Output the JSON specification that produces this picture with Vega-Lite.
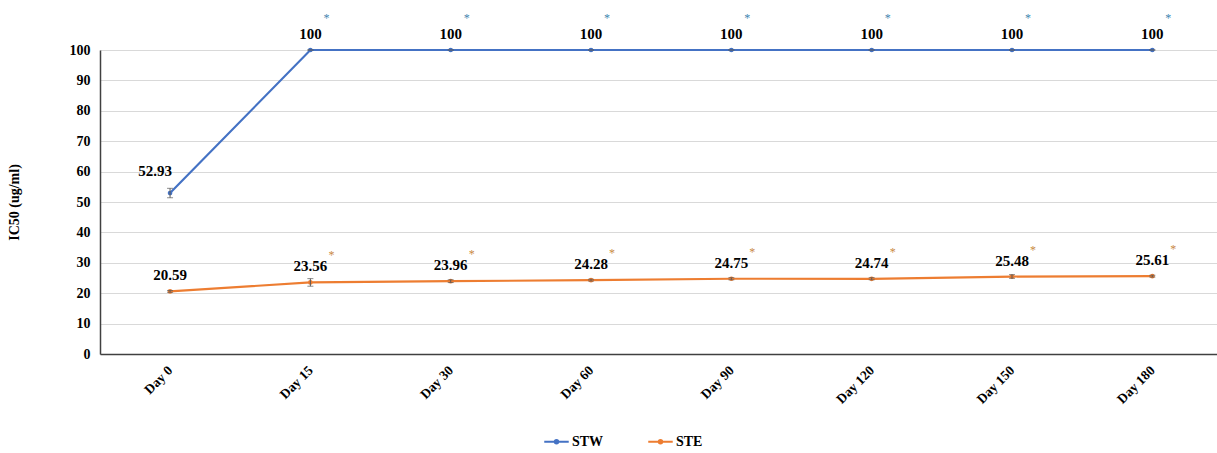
{
  "$schema": "https://vega.github.io/schema/vega-lite/v6.json",
  "autosize": "none",
  "padding": {"left": 100, "top": 50, "right": 0, "bottom": 99},
  "width": 1117,
  "height": 304,
  "background": "white",
  "config": {
    "view": {"stroke": null},
    "font": "Liberation Serif",
    "text": {"font": "Liberation Serif"}
  },
  "data": {
    "values": [
      {"day": "Day 0", "series": "STW", "value": 52.93, "lo": 51.4, "hi": 54.5, "label": "52.93", "star": false},
      {"day": "Day 15", "series": "STW", "value": 100, "lo": 100, "hi": 100, "label": "100", "star": true},
      {"day": "Day 30", "series": "STW", "value": 100, "lo": 100, "hi": 100, "label": "100", "star": true},
      {"day": "Day 60", "series": "STW", "value": 100, "lo": 100, "hi": 100, "label": "100", "star": true},
      {"day": "Day 90", "series": "STW", "value": 100, "lo": 100, "hi": 100, "label": "100", "star": true},
      {"day": "Day 120", "series": "STW", "value": 100, "lo": 100, "hi": 100, "label": "100", "star": true},
      {"day": "Day 150", "series": "STW", "value": 100, "lo": 100, "hi": 100, "label": "100", "star": true},
      {"day": "Day 180", "series": "STW", "value": 100, "lo": 100, "hi": 100, "label": "100", "star": true},
      {"day": "Day 0", "series": "STE", "value": 20.59, "lo": 20.3, "hi": 20.9, "label": "20.59", "star": false},
      {"day": "Day 15", "series": "STE", "value": 23.56, "lo": 22.3, "hi": 24.8, "label": "23.56", "star": true},
      {"day": "Day 30", "series": "STE", "value": 23.96, "lo": 23.5, "hi": 24.4, "label": "23.96", "star": true},
      {"day": "Day 60", "series": "STE", "value": 24.28, "lo": 24.0, "hi": 24.6, "label": "24.28", "star": true},
      {"day": "Day 90", "series": "STE", "value": 24.75, "lo": 24.4, "hi": 25.1, "label": "24.75", "star": true},
      {"day": "Day 120", "series": "STE", "value": 24.74, "lo": 24.4, "hi": 25.1, "label": "24.74", "star": true},
      {"day": "Day 150", "series": "STE", "value": 25.48, "lo": 24.9, "hi": 26.1, "label": "25.48", "star": true},
      {"day": "Day 180", "series": "STE", "value": 25.61, "lo": 25.3, "hi": 25.9, "label": "25.61", "star": true}
    ]
  },
  "encoding": {
    "x": {
      "field": "day", "type": "ordinal",
      "sort": ["Day 0", "Day 15", "Day 30", "Day 60", "Day 90", "Day 120", "Day 150", "Day 180"],
      "scale": {"type": "point", "padding": 0.48, "align": 0.52},
      "axis": {
        "title": null, "labelAngle": -45, "labelAlign": "right", "labelBaseline": "middle",
        "labelFont": "Liberation Serif", "labelFontWeight": "bold", "labelFontSize": 13.5, "labelColor": "#000000",
        "labelPadding": 14, "ticks": false, "grid": false, "domainColor": "#404040", "domainWidth": 1.5
      }
    },
    "y": {
      "field": "value", "type": "quantitative",
      "scale": {"domain": [0, 100], "nice": false},
      "axis": {
        "title": "IC50 (ug/ml)", "values": [0, 10, 20, 30, 40, 50, 60, 70, 80, 90, 100],
        "titleFont": "Liberation Serif", "titleFontWeight": "bold", "titleFontSize": 14, "titleColor": "#000000",
        "titlePadding": 48,
        "labelFont": "Liberation Serif", "labelFontWeight": "bold", "labelFontSize": 14, "labelColor": "#000000",
        "labelPadding": 10, "ticks": false, "grid": true, "gridColor": "#d9d9d9", "gridWidth": 1,
        "domainColor": "#404040", "domainWidth": 1.5
      }
    }
  },
  "layer": [
    {
      "mark": {"type": "line", "strokeWidth": 2.2, "point": {"size": 22, "filled": true}},
      "encoding": {
        "color": {
          "field": "series", "type": "nominal",
          "scale": {"domain": ["STW", "STE"], "range": ["#4472C4", "#ED7D31"]},
          "legend": {
            "title": null, "orient": "none", "direction": "horizontal",
            "legendX": 443, "legendY": 378,
            "symbolType": "M-1,0H1M-0.14,0A0.14,0.14 0 1,1 0.14,0A0.14,0.14 0 1,1 -0.14,0",
            "symbolSize": 600, "symbolStrokeWidth": 2,
            "labelFont": "Liberation Serif", "labelFontWeight": "bold", "labelFontSize": 14, "labelColor": "#000000",
            "labelOffset": 2, "columnPadding": 40
          }
        }
      }
    },
    {
      "mark": {"type": "errorbar", "ticks": {"size": 6, "color": "#595959"}, "rule": {"color": "#595959"}, "thickness": 1},
      "encoding": {
        "y": {"field": "lo", "type": "quantitative"},
        "y2": {"field": "hi"}
      }
    },
    {
      "transform": [{"filter": "!(datum.series == 'STW' && datum.day == 'Day 0')"}],
      "mark": {"type": "text", "dy": -16, "baseline": "middle", "fontSize": 15, "fontWeight": "bold", "font": "Liberation Serif", "color": "#000000"},
      "encoding": {"text": {"field": "label"}}
    },
    {
      "transform": [{"filter": "datum.series == 'STW' && datum.day == 'Day 0'"}],
      "mark": {"type": "text", "dy": -22, "dx": -15, "baseline": "middle", "fontSize": 15, "fontWeight": "bold", "font": "Liberation Serif", "color": "#000000"},
      "encoding": {"text": {"field": "label"}}
    },
    {
      "transform": [{"filter": "datum.star && datum.series == 'STW'"}],
      "mark": {"type": "text", "dx": 16, "dy": -32, "baseline": "middle", "fontSize": 12, "font": "Liberation Serif", "color": "#3f86b0", "text": "*"},
      "encoding": {}
    },
    {
      "transform": [{"filter": "datum.star && datum.series == 'STE'"}],
      "mark": {"type": "text", "dx": 21, "dy": -27, "baseline": "middle", "fontSize": 12, "font": "Liberation Serif", "color": "#c9893f", "text": "*"},
      "encoding": {}
    }
  ]
}
